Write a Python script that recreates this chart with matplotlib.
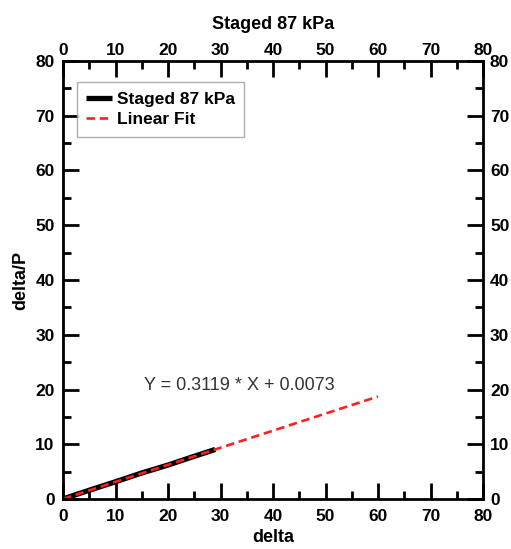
import matplotlib
matplotlib.use("Agg")
import matplotlib.pyplot as plt
import numpy as np

plt.rcParams['font.family'] = ['Liberation Sans', 'DejaVu Sans']

data_x = [0, 2, 5, 10, 15, 20, 25, 29]
data_y = [0, 0.65, 1.6, 3.15, 4.75, 6.2, 7.8, 9.05]
slope = 0.3119
intercept = 0.0073
fit_x = [0, 60]
series_label = "Staged 87 kPa"
fit_label = "Linear Fit"
eq_text = "Y = 0.3119 * X + 0.0073"

fig = plt.figure(figsize=(5.11, 5.49), dpi=100)
ax = fig.add_axes([63/511, 1-499/549, 420/511, 438/549])

ax.plot(data_x, data_y, color='black', lw=3.8, label=series_label, solid_capstyle='butt')
fx = np.array(fit_x)
ax.plot(fx, slope*fx + intercept, color='#ff2020', lw=1.9, ls=(0, (3.2, 1.8)), label=fit_label)

ax.set_xlim(0, 80)
ax.set_ylim(0, 80)
ticks = np.arange(0, 81, 10)
minor = np.arange(5, 80, 10)
ax.set_xticks(ticks)
ax.set_yticks(ticks)
ax.set_xticks(minor, minor=True)
ax.set_yticks(minor, minor=True)
ax.tick_params(which='both', direction='in', top=True, right=True,
               labeltop=False, labelright=False, width=2, labelsize=12.5)
ax.tick_params(which='major', length=11.5)
ax.tick_params(axis='x', which='major', pad=7)
ax.tick_params(axis='y', which='major', pad=6)
ax.tick_params(which='minor', length=6)
for lab in ax.get_xticklabels() + ax.get_yticklabels():
    lab.set_fontweight('bold')
for sp in ax.spines.values():
    sp.set_linewidth(2)

ax.set_xlabel('delta', fontsize=13, fontweight='bold', labelpad=4)
ax.set_ylabel('delta/P', fontsize=13, fontweight='bold', labelpad=4)

secx = ax.secondary_xaxis('top')
secx.set_xticks(ticks)
secx.tick_params(length=0, pad=2, labelsize=12.5)
secx.spines['top'].set_visible(False)
for lab in secx.get_xticklabels():
    lab.set_fontweight('bold')
secy = ax.secondary_yaxis('right')
secy.set_yticks(ticks)
secy.tick_params(length=0, pad=5, labelsize=12.5)
secy.spines['right'].set_visible(False)
for lab in secy.get_yticklabels():
    lab.set_fontweight('bold')

secx.set_xlabel(series_label, fontsize=13, fontweight='bold', labelpad=10)

ax.text(15.5, 20.8, eq_text, fontsize=13, va='center', ha='left', color='#333333')

leg = ax.legend(loc='upper left', bbox_to_anchor=(0.033, 0.952), fancybox=False,
                edgecolor='#999999', prop={'weight': 'bold', 'size': 12.5},
                handlelength=1.5, handletextpad=0.25, borderpad=0.55, labelspacing=0.3,
                borderaxespad=0)
leg.get_frame().set_linewidth(1)

fig.savefig('out.png', dpi=100)
